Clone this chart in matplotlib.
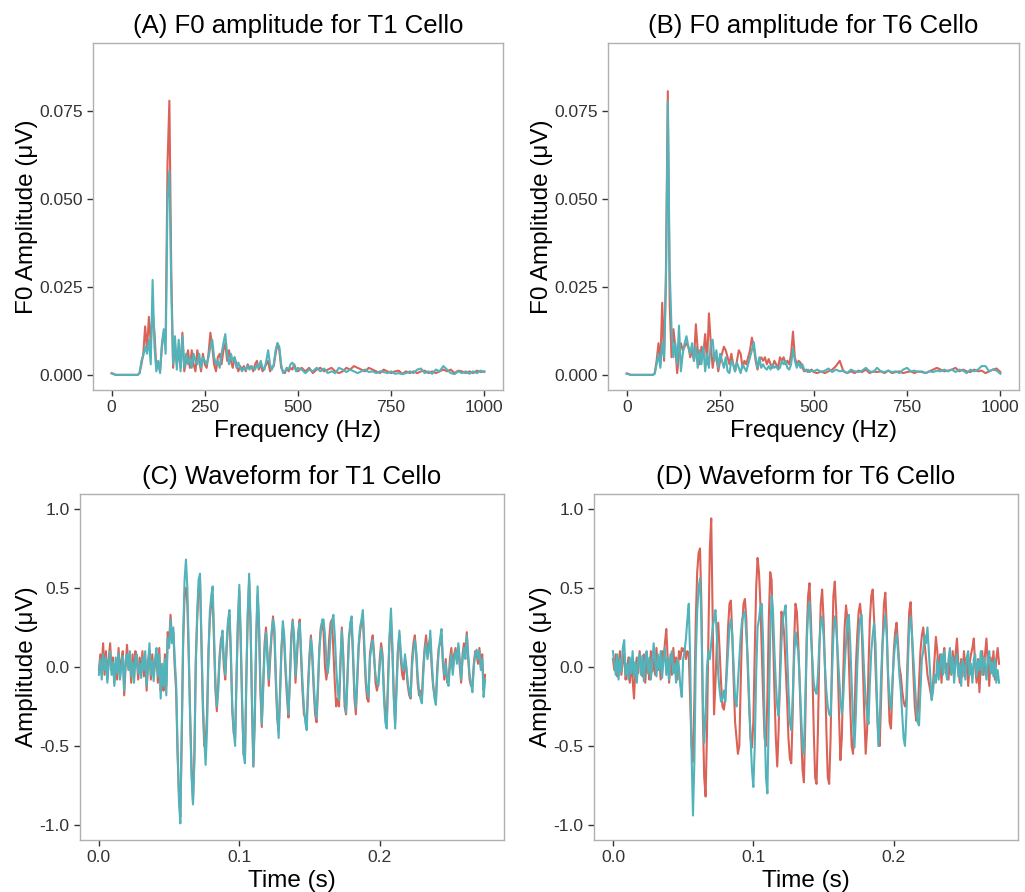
import numpy as np
import matplotlib
matplotlib.use('Agg')
import matplotlib.pyplot as plt
from matplotlib.ticker import FormatStrFormatter

plt.rcParams['font.family'] = ['Liberation Sans', 'DejaVu Sans']
plt.rcParams['axes.unicode_minus'] = False

# frequency grid of the spectra: 5 Hz up to 495, then 10 Hz
freq = np.concatenate([np.arange(0, 500, 5), np.arange(500, 1001, 10)])

# spectrum amplitudes, in 1e-3 uV
t1_red = [
    0.5, 0.3, 0, 0, 0, 0, 0, 0, 0, 0,
    0, 0, 0, 0, 0, 0.5, 3, 6, 13.8, 7,
    16.5, 9, 18, 12, 2, 3, 1, 8, 12, 10,
    60, 78, 30, 2, 9, 3, 7, 2, 12, 1,
    4, 7, 2, 7, 3, 1, 7, 4, 1, 6,
    3, 2, 6, 12, 8, 3, 1, 5, 6, 3,
    7, 9, 4, 7, 4, 2, 5, 3, 1, 2.5,
    1.5, 2.5, 1, 3, 2, 2.5, 1, 3, 4, 1.5,
    3, 1, 2, 3, 4, 1, 2, 2.5, 6, 9,
    7, 2, 1, 0.5, 2, 1, 2, 1.5, 3, 1.5,
    1, 2, 1, 2, 0.5, 1.5, 2, 1, 1.5, 2,
    1, 0.5, 1, 2, 1.5, 2.5, 2, 1.5, 1, 2,
    1.5, 1, 0.5, 1.5, 1, 0.5, 1, 1.2, 0.3, 1,
    0.5, 1, 0.5, 1, 1.2, 0.5, 1, 0.5, 1, 1.5,
    1, 1.5, 0.5, 1.2, 1, 0.5, 1, 0.5, 1.2, 0.8,
    1]
t1_teal = [
    0.4, 0.3, 0, 0, 0, 0, 0, 0, 0, 0,
    0, 0, 0, 0, 0, 0.5, 4, 5.5, 8, 6,
    10, 3, 27, 8, 1, 4, 0.5, 9, 13, 6,
    50, 58, 25, 3, 11, 1.5, 10, 1, 11, 2,
    6, 3, 5, 2, 6, 4, 3, 6, 2, 5,
    4, 3, 5, 8, 10, 5, 3, 4, 2, 6,
    9, 11.6, 6, 3, 6, 4, 5, 2, 3.5, 2,
    1, 2, 1.5, 2.5, 1.5, 2.5, 2, 1.5, 3, 2,
    4, 2, 1.5, 4, 7, 3, 1.5, 3, 7, 9,
    8, 3, 0.5, 1, 2, 1.5, 3, 3.5, 2.5, 1,
    2, 1.5, 0.5, 1.5, 1, 2, 1, 1.8, 0.5, 1,
    0.5, 2, 1.5, 0.8, 1.5, 1, 0.5, 1, 1.5, 0.8,
    1, 0.5, 1, 0.8, 0.5, 1, 0.3, 0.5, 0.2, 0.5,
    1, 0.5, 1.5, 1.8, 0.5, 1, 0.3, 1.5, 1, 2.5,
    1.5, 0.5, 0.2, 1, 0.5, 1, 0.3, 1, 0.5, 1.2,
    0.8]
t6_red = [
    0.4, 0.3, 0, 0, 0, 0, 0, 0, 0, 0,
    0, 0, 0, 0, 0, 0.5, 4, 9, 3, 20.5,
    4, 30, 80.7, 20, 5, 13, 8, 0.5, 6, 9,
    7, 8, 9, 8, 5, 7, 4, 14.4, 7, 3,
    8, 6, 11.6, 3, 17.5, 9, 2, 6, 5, 1,
    4, 6, 8, 7, 5, 3, 6, 3, 1, 4,
    7, 6, 2, 4, 3, 5, 7, 10.6, 8, 4,
    1.5, 4, 5, 4, 5, 3, 4.5, 3, 2, 4,
    3, 2, 5, 4, 5, 3, 4, 3, 6, 12.3,
    5, 3, 4, 3.5, 2, 1, 1.5, 0.8, 1.2, 1.5,
    0.8, 0.5, 1, 0.5, 1, 1.5, 2.5, 4, 1, 0.5,
    1, 0.5, 1.2, 0.8, 1.5, 0.5, 1, 0.8, 1, 0.5,
    1.2, 0.5, 0.8, 1, 0.5, 0.8, 1, 0.5, 1, 0.8,
    0.5, 1, 1.5, 2, 1.5, 1, 1.2, 1.5, 2, 1,
    1.5, 1, 0.8, 1.5, 1, 1.2, 0.5, 1, 1.5, 1.8,
    0.8]
t6_teal = [
    0.3, 0.2, 0, 0, 0, 0, 0, 0, 0, 0,
    0, 0, 0, 0, 0, 0.3, 3, 6, 2, 9,
    5, 25, 77.8, 30, 13, 5, 9, 3, 14, 1,
    6, 9, 11, 8, 6, 9, 4, 8, 2, 7,
    3, 8, 1, 6, 2, 9, 10, 4, 7, 2,
    6, 4, 2, 5, 1, 0.5, 4, 3, 1, 3.5,
    2, 0.5, 3, 2, 1, 3, 5, 7, 9.3, 5,
    2, 5, 2, 3, 2, 1.5, 2.5, 1.5, 3, 2,
    2.5, 1.5, 2, 4, 3, 4, 2, 1.5, 3, 7.5,
    4, 2, 3.5, 2, 3, 1.5, 1, 1.5, 0.8, 1.2,
    1, 1.5, 0.8, 1.2, 1.8, 0.8, 1.5, 1, 1.2, 0.5,
    1.5, 1, 0.8, 1.2, 2, 1, 0.8, 2, 1, 0.8,
    1.2, 0.8, 1, 0.5, 1.5, 2, 1, 1.2, 0.8, 1,
    0.5, 1, 0.8, 1.2, 1, 1.5, 1, 1.5, 0.8, 1.5,
    1.2, 0.5, 1.5, 1, 1.5, 2.5, 2.5, 1, 1.5, 1.2,
    0.3]

# waveforms, sampled every 1 ms from 0 to 0.275 s
time = np.arange(276) / 1000.0

w1_red = [
    -0.02, 0.08, 0.00, 0.15, -0.05, 0.10, -0.08, 0.05, 0.15, -0.02,
    0.06, -0.10, 0.02, -0.08, 0.12, -0.05, 0.04, 0.10, -0.18, 0.00,
    0.14, 0.02, 0.06, -0.10, 0.08, -0.06, 0.10, 0.04, -0.08, 0.06,
    -0.04, 0.10, -0.06, 0.05, -0.15, 0.04, 0.10, -0.08, 0.08, -0.05,
    0.02, 0.08, -0.10, 0.12, -0.15, -0.05, -0.15, 0.08, -0.12, 0.22,
    0.15, 0.33, 0.20, 0.22, 0.00, -0.15, -0.55, -0.80, -0.95, -0.45,
    0.15, 0.45, 0.50, 0.40, 0.05, -0.30, -0.65, -0.85, -0.55, 0.05,
    0.30, 0.50, 0.55, 0.15, -0.25, -0.50, -0.48, -0.30, 0.10, 0.30,
    0.40, 0.45, 0.15, -0.15, -0.28, -0.10, 0.08, 0.18, 0.20, 0.00,
    -0.08, 0.12, 0.28, 0.33, 0.05, -0.28, -0.42, -0.45, -0.05, 0.28,
    0.48, 0.15, -0.25, -0.55, -0.58, -0.05, 0.32, 0.55, 0.25, -0.25,
    -0.63, -0.35, 0.15, 0.45, 0.25, -0.15, -0.38, -0.10, 0.15, 0.25,
    0.10, -0.12, 0.05, 0.20, 0.32, 0.20, -0.10, -0.32, -0.40, -0.15,
    0.12, 0.25, 0.15, -0.05, -0.20, -0.32, -0.05, 0.20, 0.30, 0.15,
    -0.10, 0.05, 0.22, 0.30, 0.05, -0.15, -0.30, -0.32, -0.35, -0.10,
    0.08, 0.20, 0.05, -0.15, -0.30, -0.35, -0.15, 0.12, 0.25, 0.28,
    0.22, 0.00, -0.08, 0.00, 0.18, 0.28, 0.30, 0.10, -0.10, -0.25,
    -0.20, -0.25, 0.00, 0.25, 0.08, -0.25, -0.30, -0.05, 0.18, 0.25,
    0.28, 0.05, -0.20, -0.30, -0.10, 0.12, 0.22, 0.28, 0.32, 0.10,
    -0.10, -0.20, -0.22, 0.08, 0.15, 0.20, 0.08, -0.10, -0.15, -0.10,
    0.05, 0.15, 0.08, -0.15, -0.30, -0.35, -0.05, 0.18, 0.30, 0.10,
    -0.18, -0.35, -0.10, 0.12, 0.20, 0.05, -0.05, -0.08, 0.05, -0.02,
    -0.12, -0.18, -0.20, 0.05, 0.15, 0.20, 0.08, -0.10, -0.18, -0.15,
    -0.20, 0.00, 0.12, 0.20, 0.08, 0.15, 0.18, 0.00, -0.12, -0.18,
    -0.20, 0.00, 0.12, 0.15, 0.20, 0.02, -0.08, 0.05, -0.10, -0.08,
    0.05, 0.12, -0.02, 0.08, 0.12, 0.05, 0.12, 0.00, -0.10, 0.08,
    0.15, 0.08, 0.22, 0.05, -0.08, -0.12, -0.12, 0.02, 0.10, 0.08,
    0.02, 0.12, 0.00, 0.08, -0.15, -0.05]
w1_teal = [
    -0.05, 0.05, -0.08, 0.08, -0.02, 0.06, -0.10, 0.02, 0.10, -0.05,
    0.03, -0.12, 0.06, -0.04, 0.09, -0.08, 0.00, 0.07, -0.15, 0.04,
    0.08, -0.02, 0.10, -0.06, 0.03, -0.10, 0.05, 0.08, -0.04, 0.02,
    -0.07, 0.06, -0.02, 0.10, -0.12, 0.00, 0.15, -0.05, 0.04, -0.09,
    0.05, 0.12, -0.06, 0.08, -0.20, 0.02, -0.12, 0.05, -0.18, 0.18,
    0.12, 0.30, 0.15, 0.25, 0.05, -0.10, -0.50, -0.85, -0.99, -0.40,
    0.20, 0.55, 0.68, 0.50, 0.10, -0.35, -0.70, -0.87, -0.60, 0.00,
    0.35, 0.55, 0.59, 0.20, -0.20, -0.45, -0.62, -0.40, 0.05, 0.35,
    0.45, 0.51, 0.20, -0.10, -0.25, -0.15, 0.05, 0.15, 0.23, 0.05,
    -0.05, 0.15, 0.30, 0.36, 0.10, -0.25, -0.40, -0.50, -0.10, 0.30,
    0.52, 0.20, -0.20, -0.55, -0.61, -0.10, 0.35, 0.59, 0.30, -0.20,
    -0.63, -0.30, 0.20, 0.51, 0.30, -0.10, -0.36, -0.15, 0.10, 0.22,
    0.05, -0.08, 0.10, 0.22, 0.30, 0.25, -0.05, -0.30, -0.45, -0.20,
    0.10, 0.29, 0.20, 0.00, -0.15, -0.30, -0.10, 0.15, 0.29, 0.20,
    -0.06, 0.10, 0.20, 0.28, 0.10, -0.10, -0.25, -0.35, -0.40, -0.15,
    0.05, 0.18, 0.10, -0.10, -0.25, -0.32, -0.10, 0.10, 0.22, 0.30,
    0.30, 0.20, 0.05, -0.04, 0.05, 0.20, 0.28, 0.33, 0.20, 0.00,
    -0.15, -0.21, 0.05, 0.23, 0.05, -0.20, -0.29, -0.10, 0.15, 0.28,
    0.32, 0.10, -0.15, -0.26, -0.05, 0.15, 0.25, 0.30, 0.36, 0.15,
    -0.05, -0.15, -0.19, 0.05, 0.12, 0.17, 0.05, -0.05, -0.10, -0.12,
    0.00, 0.12, 0.05, -0.20, -0.35, -0.39, -0.10, 0.20, 0.37, 0.15,
    -0.20, -0.39, -0.15, 0.10, 0.23, 0.10, 0.00, -0.02, 0.08, 0.00,
    -0.10, -0.15, -0.19, 0.00, 0.10, 0.17, 0.10, -0.05, -0.15, -0.20,
    -0.23, -0.05, 0.10, 0.15, 0.05, 0.10, 0.23, 0.05, -0.10, -0.20,
    -0.24, -0.05, 0.10, 0.18, 0.24, 0.05, -0.05, 0.02, -0.08, -0.12,
    0.00, 0.08, -0.05, 0.05, 0.10, 0.02, 0.15, 0.05, -0.08, 0.05,
    0.12, 0.05, 0.20, 0.08, -0.05, -0.10, -0.16, 0.00, 0.08, 0.11,
    0.05, 0.10, -0.02, 0.05, -0.19, -0.08]
w6_red = [
    0.05, -0.02, 0.08, -0.06, 0.02, 0.10, -0.05, 0.04, 0.08, -0.08,
    -0.02, 0.06, -0.10, 0.03, -0.08, -0.20, 0.00, 0.06, -0.04, 0.10,
    0.02, -0.06, 0.08, -0.10, 0.05, 0.00, -0.08, 0.10, -0.03, 0.05,
    -0.05, 0.12, -0.02, 0.06, -0.08, 0.10, 0.04, 0.15, 0.24, 0.05,
    -0.10, 0.08, -0.05, 0.12, -0.02, 0.06, -0.08, 0.10, 0.05, 0.12,
    0.10, 0.12, 0.05, 0.10, 0.08, -0.20, -0.50, -0.60, -0.20, 0.30,
    0.60, 0.72, 0.75, 0.40, -0.30, -0.70, -0.82, -0.40, 0.20, 0.75,
    0.94, 0.30, -0.30, -0.10, 0.15, 0.28, 0.10, -0.10, -0.25, -0.27,
    -0.20, 0.00, 0.25, 0.40, 0.42, 0.20, -0.10, -0.35, -0.45, -0.55,
    -0.50, -0.10, 0.25, 0.40, 0.43, 0.30, 0.00, -0.25, -0.45, -0.51,
    -0.35, 0.10, 0.50, 0.69, 0.60, 0.40, 0.10, -0.20, -0.45, -0.50,
    -0.20, 0.30, 0.60, 0.55, 0.20, -0.15, -0.45, -0.63, -0.40, 0.00,
    0.35, 0.30, 0.20, 0.00, -0.20, -0.45, -0.58, -0.61, -0.30, 0.15,
    0.40, 0.35, 0.15, -0.10, -0.40, -0.65, -0.73, -0.35, 0.20, 0.45,
    0.53, 0.30, 0.00, -0.40, -0.70, -0.74, -0.40, 0.10, 0.40, 0.49,
    0.30, 0.00, -0.40, -0.70, -0.74, -0.45, 0.05, 0.45, 0.54, 0.35,
    0.05, -0.30, -0.59, -0.45, -0.05, 0.25, 0.39, 0.30, 0.05, -0.25,
    -0.50, -0.55, -0.30, 0.00, 0.20, 0.35, 0.40, 0.30, 0.00, -0.30,
    -0.55, -0.40, 0.00, 0.30, 0.45, 0.49, 0.30, 0.00, -0.25, -0.45,
    -0.50, -0.20, 0.15, 0.40, 0.47, 0.25, -0.10, -0.35, -0.39, -0.15,
    0.10, 0.22, 0.28, 0.15, 0.00, -0.05, -0.15, -0.22, -0.25, -0.20,
    0.10, 0.35, 0.41, 0.20, -0.05, -0.25, -0.34, -0.30, -0.10, 0.10,
    0.20, 0.25, 0.15, 0.05, -0.05, -0.10, -0.15, -0.20, -0.10, 0.05,
    0.19, 0.10, -0.05, 0.08, -0.10, 0.05, 0.12, -0.04, 0.02, -0.08,
    0.06, -0.05, 0.10, -0.02, 0.08, 0.18, 0.02, -0.10, 0.05, -0.06,
    0.10, -0.04, 0.06, -0.12, 0.02, 0.08, 0.12, 0.18, 0.00, -0.10,
    0.05, -0.16, 0.02, 0.10, -0.05, 0.08, 0.18, 0.02, -0.12, 0.06,
    -0.04, 0.10, -0.08, 0.05, 0.12, 0.02]
w6_teal = [
    0.10, 0.02, -0.05, 0.08, -0.08, 0.05, -0.03, 0.12, 0.17, -0.05,
    0.02, -0.08, 0.06, -0.04, 0.10, -0.06, 0.03, -0.10, 0.05, 0.08,
    -0.05, 0.07, -0.09, 0.04, 0.10, -0.04, 0.06, -0.08, 0.02, 0.15,
    0.05, -0.06, 0.08, -0.02, 0.10, -0.07, 0.04, 0.12, -0.05, 0.06,
    -0.08, 0.05, 0.10, -0.04, 0.02, -0.10, 0.05, 0.00, -0.12, -0.19,
    0.05, 0.10, 0.18, 0.30, 0.40, 0.05, -0.55, -0.94, -0.60, 0.05,
    0.35, 0.50, 0.56, 0.30, -0.20, -0.48, -0.30, 0.00, 0.10, 0.05,
    0.15, 0.25, 0.30, 0.36, 0.20, -0.05, -0.15, -0.22, -0.20, -0.15,
    -0.22, -0.05, 0.10, 0.25, 0.30, 0.20, 0.00, -0.20, -0.25, -0.10,
    0.05, 0.20, 0.30, 0.33, 0.35, 0.20, 0.05, -0.20, -0.45, -0.65,
    -0.76, -0.50, -0.05, 0.25, 0.30, 0.38, 0.40, 0.15, -0.35, -0.70,
    -0.80, -0.30, 0.20, 0.45, 0.35, 0.10, -0.10, -0.25, -0.31, -0.10,
    0.15, 0.30, 0.35, 0.39, 0.10, -0.15, -0.35, -0.40, -0.20, 0.05,
    0.22, 0.15, 0.10, -0.10, -0.30, -0.50, -0.55, -0.20, 0.15, 0.35,
    0.41, 0.20, 0.05, -0.10, -0.15, -0.17, -0.05, 0.15, 0.28, 0.32,
    0.20, 0.00, -0.15, -0.25, -0.30, -0.31, -0.05, 0.20, 0.32, 0.25,
    0.10, -0.05, -0.20, -0.30, -0.20, 0.00, 0.15, 0.30, 0.33, 0.15,
    -0.10, -0.35, -0.51, -0.30, 0.00, 0.20, 0.30, 0.33, 0.15, -0.05,
    -0.20, -0.30, -0.36, -0.10, 0.10, 0.20, 0.28, 0.15, -0.20, -0.50,
    -0.35, -0.05, 0.15, 0.25, 0.33, 0.20, -0.05, -0.20, -0.27, -0.10,
    0.05, 0.15, 0.21, 0.10, -0.05, -0.15, -0.30, -0.45, -0.50, -0.30,
    0.00, 0.25, 0.32, 0.20, 0.05, -0.10, -0.25, -0.35, -0.37, -0.15,
    0.05, 0.10, 0.20, 0.15, 0.25, 0.10, -0.05, -0.21, -0.15, -0.05,
    -0.10, 0.05, -0.08, 0.02, 0.08, -0.05, 0.10, -0.02, -0.08, 0.05,
    0.12, -0.04, 0.06, -0.10, 0.03, 0.08, -0.06, 0.02, -0.12, 0.04,
    0.00, -0.08, 0.06, 0.10, -0.05, 0.02, -0.10, 0.05, 0.08, -0.06,
    0.04, -0.02, 0.10, -0.05, 0.06, 0.02, -0.08, 0.05, 0.10, -0.04,
    0.03, -0.06, 0.05, -0.10, -0.02, -0.10]

titles = ['(A) F0 amplitude for T1 Cello', '(B) F0 amplitude for T6 Cello',
          '(C) Waveform for T1 Cello', '(D) Waveform for T6 Cello']

red = '#DA6257'
teal = '#52B3BA'

fig = plt.figure(figsize=(10.25, 8.92), dpi=100)
boxes = [[0.0907, 0.5628, 0.400, 0.389],
         [0.5932, 0.5628, 0.401, 0.389],
         [0.0780, 0.0583, 0.4137, 0.388],
         [0.5795, 0.0583, 0.4137, 0.388]]
axs = [fig.add_axes(b) for b in boxes]

spectra = [(t1_red, t1_teal), (t6_red, t6_teal)]
waves = [(w1_red, w1_teal), (w6_red, w6_teal)]

for i, ax in enumerate(axs):
    if i < 2:
        r, c = spectra[i]
        ax.plot(freq, np.array(r) * 1e-3, color=red, lw=1.5)
        ax.plot(freq, np.array(c) * 1e-3, color=teal, lw=1.5)
        ax.set_xlim(-50, 1050)
        ax.set_ylim(-0.0043, 0.0944)
        ax.set_xticks([0, 250, 500, 750, 1000])
        ax.set_yticks([0, 0.025, 0.05, 0.075])
        ax.yaxis.set_major_formatter(FormatStrFormatter('%.3f'))
        ax.set_xlabel('Frequency (Hz)', fontsize=17.5, labelpad=3)
        ax.set_ylabel('F0 Amplitude (μV)', fontsize=17.5, labelpad=1)
    else:
        r, c = waves[i - 2]
        ax.plot(time, r, color=red, lw=1.5)
        ax.plot(time, c, color=teal, lw=1.5)
        ax.set_xlim(-0.0135, 0.2885)
        ax.set_ylim(-1.095, 1.095)
        ax.set_xticks([0.0, 0.1, 0.2])
        ax.set_yticks([-1.0, -0.5, 0.0, 0.5, 1.0])
        ax.xaxis.set_major_formatter(FormatStrFormatter('%.1f'))
        ax.yaxis.set_major_formatter(FormatStrFormatter('%.1f'))
        ax.set_xlabel('Time (s)', fontsize=17.5, labelpad=3)
        ax.set_ylabel('Amplitude (μV)', fontsize=17.5, labelpad=1)
    ax.set_title(titles[i], fontsize=18.5, pad=7)
    for s in ax.spines.values():
        s.set_color('#B0B0B0')
        s.set_linewidth(1.0)
    ax.tick_params(length=4, width=1, color='#333333', labelsize=12.6,
                   labelcolor='#333333')

fig.savefig('out.png', dpi=100)
